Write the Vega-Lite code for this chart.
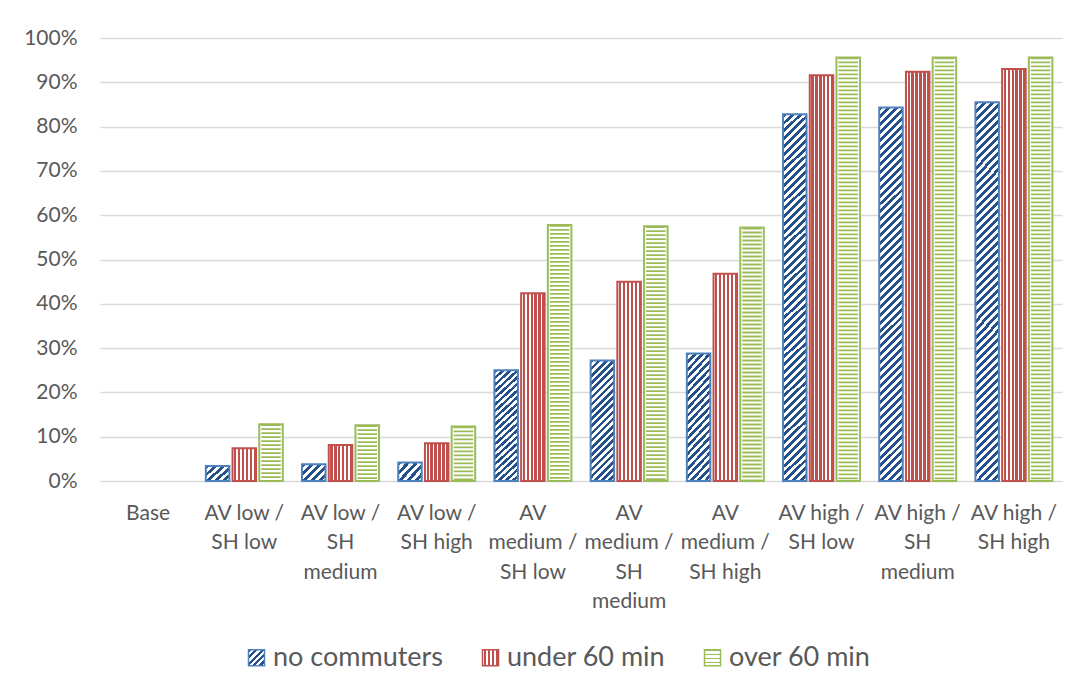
{
  "$schema": "https://vega.github.io/schema/vega-lite/v6.json",
  "width": 962,
  "height": 443,
  "autosize": {"type": "none"},
  "padding": {"left": 100, "top": 38, "right": 20, "bottom": 211},
  "background": "white",
  "config": {
    "font": "Lato",
    "view": {"stroke": null},
    "axis": {"labelFont": "Lato", "labelColor": "#595959", "gridColor": "#d9d9d9", "gridWidth": 1.3, "domain": false, "ticks": false, "tickSize": 0}
  },
  "data": {
    "values": [
      {"category": "Base", "series": "no commuters", "value": 0},
      {"category": "Base", "series": "under 60 min", "value": 0},
      {"category": "Base", "series": "over 60 min", "value": 0},
      {"category": "AV low / SH low", "series": "no commuters", "value": 0.034},
      {"category": "AV low / SH low", "series": "under 60 min", "value": 0.074},
      {"category": "AV low / SH low", "series": "over 60 min", "value": 0.128},
      {"category": "AV low / SH medium", "series": "no commuters", "value": 0.038},
      {"category": "AV low / SH medium", "series": "under 60 min", "value": 0.081},
      {"category": "AV low / SH medium", "series": "over 60 min", "value": 0.126},
      {"category": "AV low / SH high", "series": "no commuters", "value": 0.042},
      {"category": "AV low / SH high", "series": "under 60 min", "value": 0.085},
      {"category": "AV low / SH high", "series": "over 60 min", "value": 0.123},
      {"category": "AV medium / SH low", "series": "no commuters", "value": 0.25},
      {"category": "AV medium / SH low", "series": "under 60 min", "value": 0.424},
      {"category": "AV medium / SH low", "series": "over 60 min", "value": 0.578},
      {"category": "AV medium / SH medium", "series": "no commuters", "value": 0.272},
      {"category": "AV medium / SH medium", "series": "under 60 min", "value": 0.45},
      {"category": "AV medium / SH medium", "series": "over 60 min", "value": 0.575},
      {"category": "AV medium / SH high", "series": "no commuters", "value": 0.288},
      {"category": "AV medium / SH high", "series": "under 60 min", "value": 0.468},
      {"category": "AV medium / SH high", "series": "over 60 min", "value": 0.572},
      {"category": "AV high / SH low", "series": "no commuters", "value": 0.828},
      {"category": "AV high / SH low", "series": "under 60 min", "value": 0.916},
      {"category": "AV high / SH low", "series": "over 60 min", "value": 0.956},
      {"category": "AV high / SH medium", "series": "no commuters", "value": 0.843},
      {"category": "AV high / SH medium", "series": "under 60 min", "value": 0.924},
      {"category": "AV high / SH medium", "series": "over 60 min", "value": 0.956},
      {"category": "AV high / SH high", "series": "no commuters", "value": 0.855},
      {"category": "AV high / SH high", "series": "under 60 min", "value": 0.93},
      {"category": "AV high / SH high", "series": "over 60 min", "value": 0.956}
    ]
  },
  "encoding": {
    "x": {
      "field": "category",
      "type": "nominal",
      "sort": null,
      "scale": {
        "domain": ["Base", "AV low / SH low", "AV low / SH medium", "AV low / SH high", "AV medium / SH low", "AV medium / SH medium", "AV medium / SH high", "AV high / SH low", "AV high / SH medium", "AV high / SH high"],
        "paddingInner": 0.2,
        "paddingOuter": 0.1
      },
      "axis": {
        "title": null,
        "labelAngle": 0,
        "labelFontSize": 21,
        "labelPadding": 21,
        "labelBaseline": "top",
        "labelLineHeight": 29.5,
        "labelLimit": 200,
        "labelExpr": "{'Base':['Base'],'AV low / SH low':['AV low /','SH low'],'AV low / SH medium':['AV low /','SH','medium'],'AV low / SH high':['AV low /','SH high'],'AV medium / SH low':['AV','medium /','SH low'],'AV medium / SH medium':['AV','medium /','SH','medium'],'AV medium / SH high':['AV','medium /','SH high'],'AV high / SH low':['AV high /','SH low'],'AV high / SH medium':['AV high /','SH','medium'],'AV high / SH high':['AV high /','SH high']}[datum.value]"
      }
    },
    "xOffset": {
      "field": "series",
      "type": "nominal",
      "scale": {"domain": ["no commuters", "under 60 min", "over 60 min"], "paddingInner": 0.12}
    },
    "y": {
      "field": "value",
      "type": "quantitative",
      "scale": {"domain": [0, 1], "nice": false},
      "axis": {
        "title": null,
        "values": [0, 0.1, 0.2, 0.3, 0.4, 0.5, 0.6, 0.7, 0.8, 0.9, 1],
        "format": ".0%",
        "labelFontSize": 21,
        "labelPadding": 23
      }
    }
  },
  "layer": [
    {
      "transform": [{"filter": "datum.value > 0"}],
      "mark": {"type": "bar", "strokeWidth": 2},
      "encoding": {
        "stroke": {
          "field": "series",
          "type": "nominal",
          "scale": {"domain": ["no commuters", "under 60 min", "over 60 min"], "range": ["#4f81bd", "#c0504d", "#9bbb59"]},
          "legend": {
            "title": null,
            "orient": "none",
            "legendX": 143,
            "legendY": 606,
            "direction": "horizontal",
            "labelFontSize": 27,
            "labelColor": "#595959",
            "labelFont": "Lato",
            "labelLimit": 400,
            "symbolType": "square",
            "symbolSize": 256,
            "symbolStrokeWidth": 1.5,
            "labelOffset": 3,
            "columnPadding": 33,
            "encoding": {
              "symbols": {
                "fill": {
                  "condition": [
                    {"test": "datum.value === 'under 60 min'", "value": {"gradient": "linear", "x1": 0, "y1": 0, "x2": 1, "y2": 0, "stops": [
                      {"offset": 0, "color": "#fff"}, {"offset": 0.1, "color": "#fff"}, {"offset": 0.1, "color": "#c0504d"}, {"offset": 0.25, "color": "#c0504d"},
                      {"offset": 0.25, "color": "#fff"}, {"offset": 0.35, "color": "#fff"}, {"offset": 0.35, "color": "#c0504d"}, {"offset": 0.5, "color": "#c0504d"},
                      {"offset": 0.5, "color": "#fff"}, {"offset": 0.6, "color": "#fff"}, {"offset": 0.6, "color": "#c0504d"}, {"offset": 0.75, "color": "#c0504d"},
                      {"offset": 0.75, "color": "#fff"}, {"offset": 0.85, "color": "#fff"}, {"offset": 0.85, "color": "#c0504d"}, {"offset": 1, "color": "#c0504d"}
                    ]}},
                    {"test": "datum.value === 'over 60 min'", "value": {"gradient": "linear", "x1": 0, "y1": 0, "x2": 0, "y2": 1, "stops": [
                      {"offset": 0, "color": "#9bbb59"}, {"offset": 0.1, "color": "#9bbb59"}, {"offset": 0.1, "color": "#fff"}, {"offset": 0.25, "color": "#fff"},
                      {"offset": 0.25, "color": "#9bbb59"}, {"offset": 0.35, "color": "#9bbb59"}, {"offset": 0.35, "color": "#fff"}, {"offset": 0.5, "color": "#fff"},
                      {"offset": 0.5, "color": "#9bbb59"}, {"offset": 0.6, "color": "#9bbb59"}, {"offset": 0.6, "color": "#fff"}, {"offset": 0.75, "color": "#fff"},
                      {"offset": 0.75, "color": "#9bbb59"}, {"offset": 0.85, "color": "#9bbb59"}, {"offset": 0.85, "color": "#fff"}, {"offset": 1, "color": "#fff"}
                    ]}}
                  ],
                  "value": {"gradient": "linear", "x1": 0, "y1": 0, "x2": 1, "y2": 1, "stops": [
                    {"offset": 0, "color": "#24508c"}, {"offset": 0.1, "color": "#24508c"}, {"offset": 0.1, "color": "#fff"}, {"offset": 0.2, "color": "#fff"},
                    {"offset": 0.2, "color": "#24508c"}, {"offset": 0.3, "color": "#24508c"}, {"offset": 0.3, "color": "#fff"}, {"offset": 0.4, "color": "#fff"},
                    {"offset": 0.4, "color": "#24508c"}, {"offset": 0.5, "color": "#24508c"}, {"offset": 0.5, "color": "#fff"}, {"offset": 0.6, "color": "#fff"},
                    {"offset": 0.6, "color": "#24508c"}, {"offset": 0.7, "color": "#24508c"}, {"offset": 0.7, "color": "#fff"}, {"offset": 0.8, "color": "#fff"},
                    {"offset": 0.8, "color": "#24508c"}, {"offset": 0.9, "color": "#24508c"}, {"offset": 0.9, "color": "#fff"}, {"offset": 1, "color": "#fff"}
                  ]}
                }
              }
            }
          }
        },
        "fill": {
          "condition": [
            {"test": "datum.series === 'under 60 min'", "value": {"gradient": "linear", "x1": 0, "y1": 0, "x2": 1, "y2": 0, "stops": [
              {"offset": 0, "color": "#fff"}, {"offset": 0.0667, "color": "#fff"}, {"offset": 0.0667, "color": "#c0504d"}, {"offset": 0.1667, "color": "#c0504d"},
              {"offset": 0.1667, "color": "#fff"}, {"offset": 0.2333, "color": "#fff"}, {"offset": 0.2333, "color": "#c0504d"}, {"offset": 0.3333, "color": "#c0504d"},
              {"offset": 0.3333, "color": "#fff"}, {"offset": 0.4, "color": "#fff"}, {"offset": 0.4, "color": "#c0504d"}, {"offset": 0.5, "color": "#c0504d"},
              {"offset": 0.5, "color": "#fff"}, {"offset": 0.5667, "color": "#fff"}, {"offset": 0.5667, "color": "#c0504d"}, {"offset": 0.6667, "color": "#c0504d"},
              {"offset": 0.6667, "color": "#fff"}, {"offset": 0.7333, "color": "#fff"}, {"offset": 0.7333, "color": "#c0504d"}, {"offset": 0.8333, "color": "#c0504d"},
              {"offset": 0.8333, "color": "#fff"}, {"offset": 0.9, "color": "#fff"}, {"offset": 0.9, "color": "#c0504d"}, {"offset": 1, "color": "#c0504d"}
            ]}},
            {"test": "datum.series === 'over 60 min'", "value": "#ffffff"},
            {"test": "datum.value > 0.6", "value": {"gradient": "linear", "x1": 0, "y1": 0, "x2": 0.0665, "y2": 1.0586, "stops": [
              {"offset": 0, "color": "#24508c"}, {"offset": 0.01, "color": "#24508c"}, {"offset": 0.01, "color": "#fff"}, {"offset": 0.02, "color": "#fff"},
              {"offset": 0.02, "color": "#24508c"}, {"offset": 0.03, "color": "#24508c"}, {"offset": 0.03, "color": "#fff"}, {"offset": 0.04, "color": "#fff"},
              {"offset": 0.04, "color": "#24508c"}, {"offset": 0.05, "color": "#24508c"}, {"offset": 0.05, "color": "#fff"}, {"offset": 0.06, "color": "#fff"},
              {"offset": 0.06, "color": "#24508c"}, {"offset": 0.07, "color": "#24508c"}, {"offset": 0.07, "color": "#fff"}, {"offset": 0.08, "color": "#fff"},
              {"offset": 0.08, "color": "#24508c"}, {"offset": 0.09, "color": "#24508c"}, {"offset": 0.09, "color": "#fff"}, {"offset": 0.10, "color": "#fff"},
              {"offset": 0.10, "color": "#24508c"}, {"offset": 0.11, "color": "#24508c"}, {"offset": 0.11, "color": "#fff"}, {"offset": 0.12, "color": "#fff"},
              {"offset": 0.12, "color": "#24508c"}, {"offset": 0.13, "color": "#24508c"}, {"offset": 0.13, "color": "#fff"}, {"offset": 0.14, "color": "#fff"},
              {"offset": 0.14, "color": "#24508c"}, {"offset": 0.15, "color": "#24508c"}, {"offset": 0.15, "color": "#fff"}, {"offset": 0.16, "color": "#fff"},
              {"offset": 0.16, "color": "#24508c"}, {"offset": 0.17, "color": "#24508c"}, {"offset": 0.17, "color": "#fff"}, {"offset": 0.18, "color": "#fff"},
              {"offset": 0.18, "color": "#24508c"}, {"offset": 0.19, "color": "#24508c"}, {"offset": 0.19, "color": "#fff"}, {"offset": 0.20, "color": "#fff"},
              {"offset": 0.20, "color": "#24508c"}, {"offset": 0.21, "color": "#24508c"}, {"offset": 0.21, "color": "#fff"}, {"offset": 0.22, "color": "#fff"},
              {"offset": 0.22, "color": "#24508c"}, {"offset": 0.23, "color": "#24508c"}, {"offset": 0.23, "color": "#fff"}, {"offset": 0.24, "color": "#fff"},
              {"offset": 0.24, "color": "#24508c"}, {"offset": 0.25, "color": "#24508c"}, {"offset": 0.25, "color": "#fff"}, {"offset": 0.26, "color": "#fff"},
              {"offset": 0.26, "color": "#24508c"}, {"offset": 0.27, "color": "#24508c"}, {"offset": 0.27, "color": "#fff"}, {"offset": 0.28, "color": "#fff"},
              {"offset": 0.28, "color": "#24508c"}, {"offset": 0.29, "color": "#24508c"}, {"offset": 0.29, "color": "#fff"}, {"offset": 0.30, "color": "#fff"},
              {"offset": 0.30, "color": "#24508c"}, {"offset": 0.31, "color": "#24508c"}, {"offset": 0.31, "color": "#fff"}, {"offset": 0.32, "color": "#fff"},
              {"offset": 0.32, "color": "#24508c"}, {"offset": 0.33, "color": "#24508c"}, {"offset": 0.33, "color": "#fff"}, {"offset": 0.34, "color": "#fff"},
              {"offset": 0.34, "color": "#24508c"}, {"offset": 0.35, "color": "#24508c"}, {"offset": 0.35, "color": "#fff"}, {"offset": 0.36, "color": "#fff"},
              {"offset": 0.36, "color": "#24508c"}, {"offset": 0.37, "color": "#24508c"}, {"offset": 0.37, "color": "#fff"}, {"offset": 0.38, "color": "#fff"},
              {"offset": 0.38, "color": "#24508c"}, {"offset": 0.39, "color": "#24508c"}, {"offset": 0.39, "color": "#fff"}, {"offset": 0.40, "color": "#fff"},
              {"offset": 0.40, "color": "#24508c"}, {"offset": 0.41, "color": "#24508c"}, {"offset": 0.41, "color": "#fff"}, {"offset": 0.42, "color": "#fff"},
              {"offset": 0.42, "color": "#24508c"}, {"offset": 0.43, "color": "#24508c"}, {"offset": 0.43, "color": "#fff"}, {"offset": 0.44, "color": "#fff"},
              {"offset": 0.44, "color": "#24508c"}, {"offset": 0.45, "color": "#24508c"}, {"offset": 0.45, "color": "#fff"}, {"offset": 0.46, "color": "#fff"},
              {"offset": 0.46, "color": "#24508c"}, {"offset": 0.47, "color": "#24508c"}, {"offset": 0.47, "color": "#fff"}, {"offset": 0.48, "color": "#fff"},
              {"offset": 0.48, "color": "#24508c"}, {"offset": 0.49, "color": "#24508c"}, {"offset": 0.49, "color": "#fff"}, {"offset": 0.50, "color": "#fff"},
              {"offset": 0.50, "color": "#24508c"}, {"offset": 0.51, "color": "#24508c"}, {"offset": 0.51, "color": "#fff"}, {"offset": 0.52, "color": "#fff"},
              {"offset": 0.52, "color": "#24508c"}, {"offset": 0.53, "color": "#24508c"}, {"offset": 0.53, "color": "#fff"}, {"offset": 0.54, "color": "#fff"},
              {"offset": 0.54, "color": "#24508c"}, {"offset": 0.55, "color": "#24508c"}, {"offset": 0.55, "color": "#fff"}, {"offset": 0.56, "color": "#fff"},
              {"offset": 0.56, "color": "#24508c"}, {"offset": 0.57, "color": "#24508c"}, {"offset": 0.57, "color": "#fff"}, {"offset": 0.58, "color": "#fff"},
              {"offset": 0.58, "color": "#24508c"}, {"offset": 0.59, "color": "#24508c"}, {"offset": 0.59, "color": "#fff"}, {"offset": 0.60, "color": "#fff"},
              {"offset": 0.60, "color": "#24508c"}, {"offset": 0.61, "color": "#24508c"}, {"offset": 0.61, "color": "#fff"}, {"offset": 0.62, "color": "#fff"},
              {"offset": 0.62, "color": "#24508c"}, {"offset": 0.63, "color": "#24508c"}, {"offset": 0.63, "color": "#fff"}, {"offset": 0.64, "color": "#fff"},
              {"offset": 0.64, "color": "#24508c"}, {"offset": 0.65, "color": "#24508c"}, {"offset": 0.65, "color": "#fff"}, {"offset": 0.66, "color": "#fff"},
              {"offset": 0.66, "color": "#24508c"}, {"offset": 0.67, "color": "#24508c"}, {"offset": 0.67, "color": "#fff"}, {"offset": 0.68, "color": "#fff"},
              {"offset": 0.68, "color": "#24508c"}, {"offset": 0.69, "color": "#24508c"}, {"offset": 0.69, "color": "#fff"}, {"offset": 0.70, "color": "#fff"},
              {"offset": 0.70, "color": "#24508c"}, {"offset": 0.71, "color": "#24508c"}, {"offset": 0.71, "color": "#fff"}, {"offset": 0.72, "color": "#fff"},
              {"offset": 0.72, "color": "#24508c"}, {"offset": 0.73, "color": "#24508c"}, {"offset": 0.73, "color": "#fff"}, {"offset": 0.74, "color": "#fff"},
              {"offset": 0.74, "color": "#24508c"}, {"offset": 0.75, "color": "#24508c"}, {"offset": 0.75, "color": "#fff"}, {"offset": 0.76, "color": "#fff"},
              {"offset": 0.76, "color": "#24508c"}, {"offset": 0.77, "color": "#24508c"}, {"offset": 0.77, "color": "#fff"}, {"offset": 0.78, "color": "#fff"},
              {"offset": 0.78, "color": "#24508c"}, {"offset": 0.79, "color": "#24508c"}, {"offset": 0.79, "color": "#fff"}, {"offset": 0.80, "color": "#fff"},
              {"offset": 0.80, "color": "#24508c"}, {"offset": 0.81, "color": "#24508c"}, {"offset": 0.81, "color": "#fff"}, {"offset": 0.82, "color": "#fff"},
              {"offset": 0.82, "color": "#24508c"}, {"offset": 0.83, "color": "#24508c"}, {"offset": 0.83, "color": "#fff"}, {"offset": 0.84, "color": "#fff"},
              {"offset": 0.84, "color": "#24508c"}, {"offset": 0.85, "color": "#24508c"}, {"offset": 0.85, "color": "#fff"}, {"offset": 0.86, "color": "#fff"},
              {"offset": 0.86, "color": "#24508c"}, {"offset": 0.87, "color": "#24508c"}, {"offset": 0.87, "color": "#fff"}, {"offset": 0.88, "color": "#fff"},
              {"offset": 0.88, "color": "#24508c"}, {"offset": 0.89, "color": "#24508c"}, {"offset": 0.89, "color": "#fff"}, {"offset": 0.90, "color": "#fff"},
              {"offset": 0.90, "color": "#24508c"}, {"offset": 0.91, "color": "#24508c"}, {"offset": 0.91, "color": "#fff"}, {"offset": 0.92, "color": "#fff"},
              {"offset": 0.92, "color": "#24508c"}, {"offset": 0.93, "color": "#24508c"}, {"offset": 0.93, "color": "#fff"}, {"offset": 0.94, "color": "#fff"},
              {"offset": 0.94, "color": "#24508c"}, {"offset": 0.95, "color": "#24508c"}, {"offset": 0.95, "color": "#fff"}, {"offset": 0.96, "color": "#fff"},
              {"offset": 0.96, "color": "#24508c"}, {"offset": 0.97, "color": "#24508c"}, {"offset": 0.97, "color": "#fff"}, {"offset": 0.98, "color": "#fff"},
              {"offset": 0.98, "color": "#24508c"}, {"offset": 0.99, "color": "#24508c"}, {"offset": 0.99, "color": "#fff"}, {"offset": 1, "color": "#fff"}
            ]}},
            {"test": "datum.value > 0.15", "value": {"gradient": "linear", "x1": 0, "y1": 0, "x2": 0.2257, "y2": 1.1517, "stops": [
              {"offset": 0, "color": "#24508c"}, {"offset": 0.025, "color": "#24508c"}, {"offset": 0.025, "color": "#fff"}, {"offset": 0.05, "color": "#fff"},
              {"offset": 0.05, "color": "#24508c"}, {"offset": 0.075, "color": "#24508c"}, {"offset": 0.075, "color": "#fff"}, {"offset": 0.1, "color": "#fff"},
              {"offset": 0.1, "color": "#24508c"}, {"offset": 0.125, "color": "#24508c"}, {"offset": 0.125, "color": "#fff"}, {"offset": 0.15, "color": "#fff"},
              {"offset": 0.15, "color": "#24508c"}, {"offset": 0.175, "color": "#24508c"}, {"offset": 0.175, "color": "#fff"}, {"offset": 0.2, "color": "#fff"},
              {"offset": 0.2, "color": "#24508c"}, {"offset": 0.225, "color": "#24508c"}, {"offset": 0.225, "color": "#fff"}, {"offset": 0.25, "color": "#fff"},
              {"offset": 0.25, "color": "#24508c"}, {"offset": 0.275, "color": "#24508c"}, {"offset": 0.275, "color": "#fff"}, {"offset": 0.3, "color": "#fff"},
              {"offset": 0.3, "color": "#24508c"}, {"offset": 0.325, "color": "#24508c"}, {"offset": 0.325, "color": "#fff"}, {"offset": 0.35, "color": "#fff"},
              {"offset": 0.35, "color": "#24508c"}, {"offset": 0.375, "color": "#24508c"}, {"offset": 0.375, "color": "#fff"}, {"offset": 0.4, "color": "#fff"},
              {"offset": 0.4, "color": "#24508c"}, {"offset": 0.425, "color": "#24508c"}, {"offset": 0.425, "color": "#fff"}, {"offset": 0.45, "color": "#fff"},
              {"offset": 0.45, "color": "#24508c"}, {"offset": 0.475, "color": "#24508c"}, {"offset": 0.475, "color": "#fff"}, {"offset": 0.5, "color": "#fff"},
              {"offset": 0.5, "color": "#24508c"}, {"offset": 0.525, "color": "#24508c"}, {"offset": 0.525, "color": "#fff"}, {"offset": 0.55, "color": "#fff"},
              {"offset": 0.55, "color": "#24508c"}, {"offset": 0.575, "color": "#24508c"}, {"offset": 0.575, "color": "#fff"}, {"offset": 0.6, "color": "#fff"},
              {"offset": 0.6, "color": "#24508c"}, {"offset": 0.625, "color": "#24508c"}, {"offset": 0.625, "color": "#fff"}, {"offset": 0.65, "color": "#fff"},
              {"offset": 0.65, "color": "#24508c"}, {"offset": 0.675, "color": "#24508c"}, {"offset": 0.675, "color": "#fff"}, {"offset": 0.7, "color": "#fff"},
              {"offset": 0.7, "color": "#24508c"}, {"offset": 0.725, "color": "#24508c"}, {"offset": 0.725, "color": "#fff"}, {"offset": 0.75, "color": "#fff"},
              {"offset": 0.75, "color": "#24508c"}, {"offset": 0.775, "color": "#24508c"}, {"offset": 0.775, "color": "#fff"}, {"offset": 0.8, "color": "#fff"},
              {"offset": 0.8, "color": "#24508c"}, {"offset": 0.825, "color": "#24508c"}, {"offset": 0.825, "color": "#fff"}, {"offset": 0.85, "color": "#fff"},
              {"offset": 0.85, "color": "#24508c"}, {"offset": 0.875, "color": "#24508c"}, {"offset": 0.875, "color": "#fff"}, {"offset": 0.9, "color": "#fff"},
              {"offset": 0.9, "color": "#24508c"}, {"offset": 0.925, "color": "#24508c"}, {"offset": 0.925, "color": "#fff"}, {"offset": 0.95, "color": "#fff"},
              {"offset": 0.95, "color": "#24508c"}, {"offset": 0.975, "color": "#24508c"}, {"offset": 0.975, "color": "#fff"}, {"offset": 1, "color": "#fff"}
            ]}}
          ],
          "value": {"gradient": "linear", "x1": 0, "y1": 0, "x2": 1.1313, "y2": 0.8186, "stops": [
            {"offset": 0, "color": "#24508c"}, {"offset": 0.1, "color": "#24508c"}, {"offset": 0.1, "color": "#fff"}, {"offset": 0.2, "color": "#fff"},
            {"offset": 0.2, "color": "#24508c"}, {"offset": 0.3, "color": "#24508c"}, {"offset": 0.3, "color": "#fff"}, {"offset": 0.4, "color": "#fff"},
            {"offset": 0.4, "color": "#24508c"}, {"offset": 0.5, "color": "#24508c"}, {"offset": 0.5, "color": "#fff"}, {"offset": 0.6, "color": "#fff"},
            {"offset": 0.6, "color": "#24508c"}, {"offset": 0.7, "color": "#24508c"}, {"offset": 0.7, "color": "#fff"}, {"offset": 0.8, "color": "#fff"},
            {"offset": 0.8, "color": "#24508c"}, {"offset": 0.9, "color": "#24508c"}, {"offset": 0.9, "color": "#fff"}, {"offset": 1, "color": "#fff"}
          ]}
        }
      }
    },
    {
      "transform": [{"filter": "datum.series === 'over 60 min' && datum.value > 0"}],
      "mark": {"type": "rule", "stroke": "#9bbb59", "strokeWidth": 19.5, "strokeDash": [1.8, 2.2]},
      "encoding": {
        "y2": {"datum": 0}
      }
    }
  ]
}
